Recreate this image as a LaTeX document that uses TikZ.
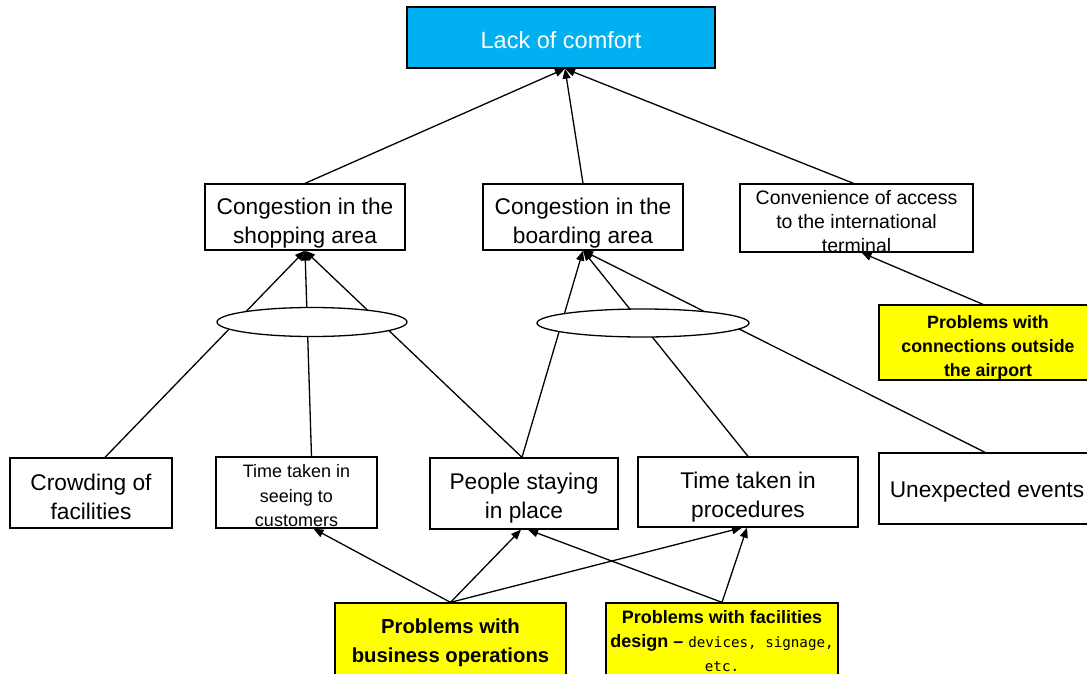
\documentclass[tikz,border=0pt]{standalone}
\usepackage{fontspec}
\setmainfont{Liberation Sans}
\newfontfamily\halfmono{DejaVu Sans Mono}
\usetikzlibrary{arrows.meta,shapes.geometric}
\definecolor{topcyan}{HTML}{00B0F0}
\definecolor{hiyellow}{HTML}{FFFF00}
\begin{document}
\begin{tikzpicture}[x=1pt,y=-1pt,
  box/.style={draw, line width=1.3pt, inner sep=0pt, fill=white},
  ybox/.style={box, fill=hiyellow},
  txt/.style={align=center, inner sep=0pt, font=\fontsize{22.7}{29}\selectfont},
  arr/.style={line width=1.3pt, -{Triangle[length=10pt,width=8pt]}},
  gate/.style={draw, line width=1.3pt, fill=white, ellipse, inner sep=0pt}
]
\clip (0,0) rectangle (1087,673);
\fill[white] (0,0) rectangle (1087,673);

% nodes
\node[box, fill=topcyan, minimum width=308pt, minimum height=61pt,
  label={[txt, text=white, yshift=-3pt, font=\fontsize{23.5}{29}\selectfont]center:{Lack of comfort}}]
  (lack) at (561,37.5) {};
\node[box, minimum width=200pt, minimum height=66pt,
  label={[txt, yshift=-6pt]center:{Congestion in the\\shopping area}}]
  (shop) at (305,217) {};
\node[box, minimum width=200pt, minimum height=66pt,
  label={[txt, yshift=-6pt]center:{Congestion in the\\boarding area}}]
  (board) at (583,217) {};
\node[box, minimum width=233pt, minimum height=68pt,
  label={[txt, yshift=-3.5pt, font=\fontsize{19.5}{24}\selectfont]center:{Convenience of access\\to the international\\terminal}}]
  (conv) at (856.5,218) {};
\node[ybox, minimum width=218pt, minimum height=75pt,
  label={[txt, yshift=-5pt, font=\fontsize{17.8}{24}\selectfont\bfseries]center:{Problems with\\connections outside\\the airport}}]
  (conn) at (988,342.5) {};

\node[box, minimum width=162pt, minimum height=70pt,
  label={[txt, yshift=-4pt]center:{Crowding of\\facilities}}]
  (crowd) at (91,493) {};
\node[box, minimum width=161pt, minimum height=71pt,
  label={[txt, yshift=-3.5pt, font=\fontsize{18}{24.5}\selectfont]center:{Time taken in\\seeing to\\customers}}]
  (seeing) at (296.5,492.5) {};
\node[box, minimum width=188pt, minimum height=71pt,
  label={[txt, yshift=-5pt]center:{People staying\\in place}}]
  (people) at (524,493.5) {};
\node[box, minimum width=220pt, minimum height=70pt,
  label={[txt, yshift=-5pt]center:{Time taken in\\procedures}}]
  (proc) at (748,492) {};
\node[box, minimum width=216pt, minimum height=71pt,
  label={[txt, yshift=-3pt]center:{Unexpected events}}]
  (unexp) at (987,488.5) {};

\node[ybox, minimum width=231pt, minimum height=76pt,
  label={[txt, yshift=-2pt, font=\fontsize{20.3}{29}\selectfont\bfseries]center:{Problems with\\business operations}}]
  (biz) at (450.5,641) {};
\node[ybox, minimum width=232pt, minimum height=72pt,
  label={[txt, yshift=-2pt, font=\fontsize{18}{24}\selectfont\bfseries]center:{Problems with facilities\\design \textendash{} {\mdseries\halfmono\fontsize{14.2}{24}\selectfont devices, signage,}\\{\mdseries\halfmono\fontsize{14.2}{24}\selectfont etc.}}}]
  (fac) at (722,639) {};

% top level arrows
\draw[arr] (shop.north) -- ([xshift=4pt]lack.south);
\draw[arr] (board.north) -- ([xshift=4pt]lack.south);
\draw[arr] ([xshift=-3pt]conv.north) -- ([xshift=4pt]lack.south);
\draw[arr] ([xshift=-5pt]conn.north) -- ([xshift=5pt]conv.south);

% AND-gate lines into shopping
\draw[arr] ([xshift=14pt]crowd.north) -- (shop.south);
\draw[arr] ([xshift=15pt]seeing.north) -- (shop.south);
\draw[arr] ([xshift=-2pt]people.north) -- (shop.south);
% AND-gate lines into boarding
\draw[arr] ([xshift=-2pt]people.north) -- (board.south);
\draw[arr] (proc.north) -- (board.south);
\draw[arr] ([xshift=-2pt]unexp.north) -- (board.south);

% gates
\node[gate, minimum width=190pt, minimum height=29pt] (gL) at (312,322) {};
\node[gate, minimum width=212pt, minimum height=28pt] (gR) at (643,323) {};

% bottom arrows
\draw[arr] (biz.north) -- ([xshift=17pt]seeing.south);
\draw[arr] (biz.north) -- ([xshift=-3pt]people.south);
\draw[arr] (biz.north) -- ([xshift=-6pt]proc.south);
\draw[arr] (fac.north) -- ([xshift=4pt]people.south);
\draw[arr] (fac.north) -- ([xshift=-1pt]proc.south);
\end{tikzpicture}
\end{document}
